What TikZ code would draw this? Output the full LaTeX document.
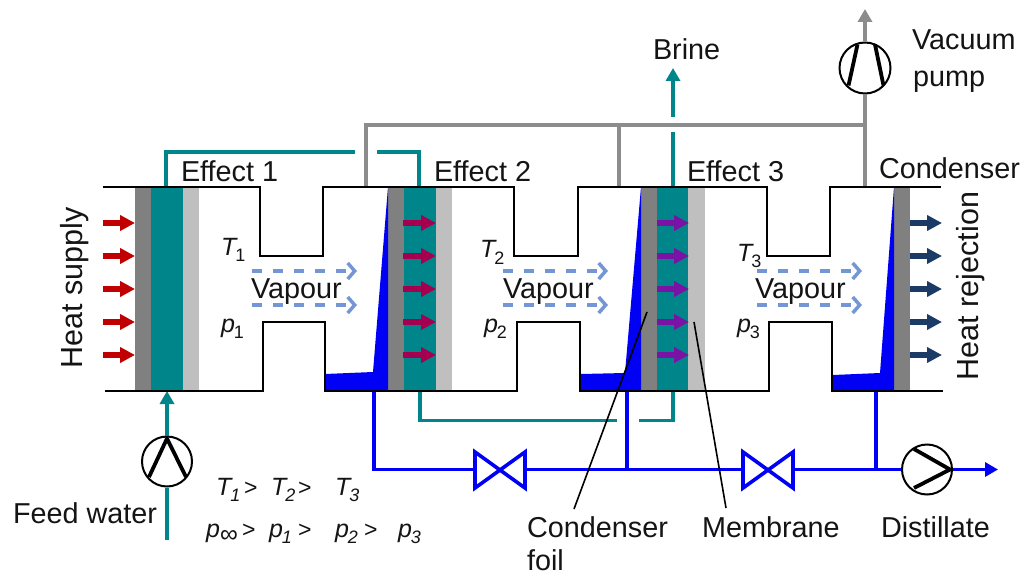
\documentclass[tikz,border=0pt]{standalone}
\usepackage{fontspec}
\setmainfont{Liberation Sans}
\usetikzlibrary{arrows.meta}
\definecolor{tealc}{HTML}{00858A}
\definecolor{grayc}{HTML}{808080}
\definecolor{lgrayc}{HTML}{BFBFBF}
\definecolor{pipeg}{HTML}{8C8C8C}
\definecolor{redc}{HTML}{C00000}
\definecolor{crimc}{HTML}{A5004F}
\definecolor{purpc}{HTML}{7A12A5}
\definecolor{navyc}{HTML}{1B3A66}
\definecolor{vapc}{HTML}{7496D4}
\definecolor{bluec}{HTML}{0000F5}
\newcommand{\lowsub}[1]{\kern-1pt\raisebox{-6pt}{\fontsize{18}{18}\selectfont #1}}
\newcommand{\infsub}{\raisebox{-5pt}{\fontsize{25}{25}\selectfont ∞}}
\tikzset{
  txt/.style={anchor=base west,inner sep=0pt,outer sep=0pt,font=\fontsize{28.8}{28.8}\selectfont,text=black!92},
  bigtxt/.style={anchor=base,inner sep=0pt,outer sep=0pt,rotate=90,font=\fontsize{30.5}{30.5}\selectfont,text=black!92},
  sym/.style={anchor=base west,inner sep=0pt,outer sep=0pt,font=\fontsize{25}{25}\selectfont\itshape,text=black!92},
  wall/.style={draw=black,line width=2.8pt,line join=miter},
  tealp/.style={draw=tealc,line width=3.4pt},
  grayp/.style={draw=pipeg,line width=3.4pt},
  bluep/.style={draw=bluec,line width=3.4pt},
  leader/.style={draw=black,line width=1.6pt},
  pumpc/.style={circle,draw=black,line width=2pt,minimum size=50pt,inner sep=0pt,fill=white},
  blade/.style={draw=black,line width=3.8pt,line join=round},
  heat/.style={-{Triangle[length=15pt,width=15pt]},line width=6.3pt},
  vap/.style={draw=vapc,line width=3.5pt,dash pattern=on 10pt off 11pt,-{Straight Barb[length=7pt,width=16pt,line width=3.5pt]}},
  tip/.style={-{Triangle[length=13pt,width=14pt]}},
  valve/.style={draw=bluec,line width=3.6pt,line join=miter}
}
\begin{document}
\begin{tikzpicture}[x=1pt,y=-1pt]
\useasboundingbox (0,0) rectangle (1024,577);
% membranes and condensing walls
\fill[grayc] (135,187) rectangle (151,391);
\fill[tealc] (151,187) rectangle (183,391);
\fill[lgrayc] (183,187) rectangle (199,391);
\fill[grayc] (388,187) rectangle (404,391);
\fill[tealc] (404,187) rectangle (436,391);
\fill[lgrayc] (436,187) rectangle (452,391);
\fill[grayc] (641,187) rectangle (657,391);
\fill[tealc] (657,187) rectangle (688,391);
\fill[lgrayc] (688,187) rectangle (705,391);
\fill[grayc] (894,187) rectangle (910,391);
% condensate
\fill[bluec] (388,187) -- (373,372) -- (325,374) -- (325,391) -- (388,391) -- cycle;
\fill[bluec] (641,187) -- (625,373) -- (581,374) -- (581,391) -- (641,391) -- cycle;
\fill[bluec] (894,187) -- (880,373) -- (833,375) -- (833,391) -- (894,391) -- cycle;
% coordinates
\coordinate (t1) at (166,187);
\coordinate (t1a) at (166,152);
\coordinate (t1b) at (355,152);
\coordinate (t2b) at (377,152);
\coordinate (t2a) at (419,152);
\coordinate (t2) at (419,187);
\coordinate (b2) at (420,391);
\coordinate (b2a) at (420,420.5);
\coordinate (b2b) at (617,420.5);
\coordinate (b3b) at (639,420.5);
\coordinate (b3a) at (673,420.5);
\coordinate (b3) at (673,391);
\coordinate (br0) at (673,187);
\coordinate (br1) at (673,132);
\coordinate (br2) at (673,117);
\coordinate (br3) at (673,68);
\coordinate (fs) at (167,540);
\coordinate (fe) at (167,391);
\coordinate (g1) at (366,187);
\coordinate (g1a) at (366,125);
\coordinate (g2) at (619,187);
\coordinate (g2a) at (619,125);
\coordinate (g3) at (865,187);
\coordinate (g3a) at (865,125);
\coordinate (gtop) at (865,9);
\coordinate (d1) at (374,391);
\coordinate (d1a) at (374,469.5);
\coordinate (d2) at (627,391);
\coordinate (d2a) at (627,469.5);
\coordinate (d3) at (876,391);
\coordinate (d3a) at (876,469.5);
\coordinate (dend) at (998,469.5);
\coordinate (v1l) at (475,469.5);
\coordinate (v1r) at (525,469.5);
\coordinate (v2l) at (743,469.5);
\coordinate (v2r) at (793,469.5);
% pumps
\node[pumpc] (feedpump) at (167,461.5) {};
\node[pumpc,minimum size=51pt] (vacpump) at (865,68) {};
\node[pumpc] (distpump) at (927,469.5) {};
% teal pipes
\draw[tealp] (t1) -- (t1a) -- (t1b);
\draw[tealp] (t2b) -- (t2a) -- (t2);
\draw[tealp] (b2) -- (b2a) -- (b2b);
\draw[tealp] (b3b) -- (b3a) -- (b3);
\draw[tealp] (br0) -- (br1);
\draw[tealp,tip] (br2) -- (br3);
\draw[tealp] (fs) -- (feedpump.south);
\draw[tealp,tip] (feedpump.north) -- (fe);
% gray pipes
\draw[grayp] (g1) -- (g1a) -- (g3a);
\draw[grayp] (g2) -- (g2a);
\draw[grayp] (g3) -- (g3a) -- (vacpump.south);
\draw[grayp,tip] (vacpump.north) -- (gtop);
% blue pipes
\draw[bluep] (d1) -- (d1a) -- (v1l);
\draw[bluep] (v1r) -- (v2l);
\draw[bluep] (v2r) -- (distpump.west);
\draw[bluep] (d2) -- (d2a);
\draw[bluep] (d3) -- (d3a);
\draw[bluep,tip] (distpump.east) -- (dend);
% valves
\draw[valve] (475,452) -- (475,488) -- (525,452) -- (525,488) -- cycle;
\draw[valve] (743,452) -- (743,488) -- (793,452) -- (793,488) -- cycle;
% pump blades
\draw[blade] (149,477) -- (167,438.5) -- (186,477);
\draw[blade] (857.5,44.5) -- (848.5,85.5);
\draw[blade] (875,44.5) -- (883.5,85.5);
\draw[blade] (914,449) -- (950,469.5) -- (914,488);
% walls
\draw[wall] (103,187) -- (260,187) -- (260,256) -- (323,256) -- (323,187) -- (514,187) -- (514,256) -- (578,256) -- (578,187) -- (767,187) -- (767,256) -- (830,256) -- (830,187) -- (941,187);
\draw[wall] (105,391) -- (263,391) -- (263,322) -- (325,322) -- (325,391) -- (517,391) -- (517,322) -- (580,322) -- (580,391) -- (769,391) -- (769,322) -- (832,322) -- (832,391) -- (943,391);
% heat arrows
\foreach \yy in {223,256,289,322,355}{
  \draw[heat,redc] (103,\yy) -- (135,\yy);
  \draw[heat,crimc] (403,\yy) -- (436,\yy);
  \draw[heat,purpc] (657,\yy) -- (689,\yy);
  \draw[heat,navyc] (910,\yy) -- (942,\yy);
}
% vapour
\foreach \xx in {252,503,757}{
  \draw[vap] (\xx,271) -- (\xx+105,271);
  \draw[vap] (\xx,305) -- (\xx+105,305);
}
% leader lines
\coordinate (lf1) at (647,312);
\coordinate (lf2) at (574,509);
\coordinate (lm1) at (694,322);
\coordinate (lm2) at (726,508);
\draw[leader] (lf1) -- (lf2);
\draw[leader] (lm1) -- (lm2);
% labels
\node[txt] (e1) at (181,182) {Effect 1};
\node[txt] (e2) at (434,182) {Effect 2};
\node[txt] (e3) at (687,182) {Effect 3};
\node[txt] (cond) at (879,179) {Condenser};
\node[txt] (brine) at (653,60) {Brine};
\node[txt] (vac) at (912,50) {Vacuum};
\node[txt] (pmp) at (913,87) {pump};
\node[txt] (vp1) at (251,298) {Vapour};
\node[txt] (vp2) at (503,298) {Vapour};
\node[txt] (vp3) at (755,298) {Vapour};
\node[txt] (feed) at (13,523) {Feed water};
\node[txt] (foil1) at (527,537) {Condenser};
\node[txt] (foil2) at (527,570) {foil};
\node[txt] (memb) at (702,537) {Membrane};
\node[txt] (dist) at (881,537) {Distillate};
\node[bigtxt] (hs) at (82,288) {Heat supply};
\node[bigtxt] (hr) at (978,286) {Heat rejection};
% chamber symbols
\node[sym] (T1) at (221,255) {T\lowsub{\upshape 1}};
\node[sym] (P1) at (221,332) {p\lowsub{\upshape 1}};
\node[sym] (T2) at (480,258) {T\lowsub{\upshape 2}};
\node[sym] (P2) at (484,332) {p\lowsub{\upshape 2}};
\node[sym] (T3) at (737,261) {T\lowsub{\upshape 3}};
\node[sym] (P3) at (737,332) {p\lowsub{\upshape 3}};
% relations
\node[sym] (r1) at (216,495) {T\lowsub{1}};
\node[sym,font=\fontsize{23}{23}\selectfont] (r2) at (244,495) {>};
\node[sym] (r3) at (271,495) {T\lowsub{2}};
\node[sym,font=\fontsize{23}{23}\selectfont] (r4) at (298,495) {>};
\node[sym] (r5) at (335,495) {T\lowsub{3}};
\node[sym] (s1) at (206,537) {p\infsub};
\node[sym,font=\fontsize{23}{23}\selectfont] (s2) at (242,537) {>};
\node[sym] (s3) at (269,537) {p\lowsub{1}};
\node[sym,font=\fontsize{23}{23}\selectfont] (s4) at (298,537) {>};
\node[sym] (s5) at (335,537) {p\lowsub{2}};
\node[sym,font=\fontsize{23}{23}\selectfont] (s6) at (364,537) {>};
\node[sym] (s7) at (398,537) {p\lowsub{3}};
\end{tikzpicture}
\end{document}
